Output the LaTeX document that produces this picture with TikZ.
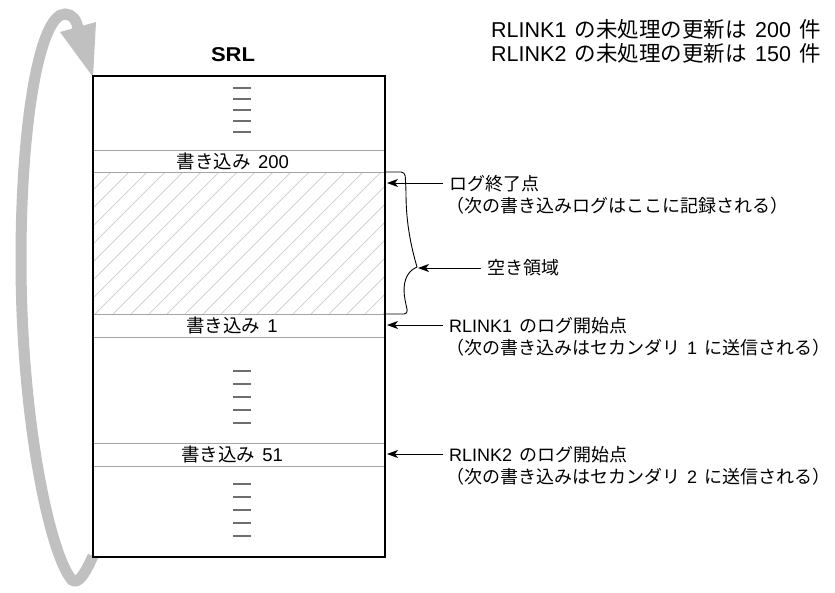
\documentclass[tikz,border=0pt]{standalone}
\usepackage{fontspec}
\setmainfont{Noto Sans CJK JP}
\newfontfamily\lat[WordSpace=1.4]{Liberation Sans}
\usetikzlibrary{arrows.meta}
\definecolor{loopgray}{RGB}{192,192,192}
\definecolor{hatchgray}{RGB}{205,205,205}
\definecolor{bandgray}{RGB}{165,165,165}
\definecolor{dashgray}{RGB}{110,110,110}
\newcommand{\latn}[1]{{\lat #1}}
\tikzset{
  lbl/.style={font=\fontsize{18}{20}\selectfont, inner sep=0pt, anchor=west},
  toplbl/.style={font=\fontsize{21.5}{24}\selectfont, inner sep=0pt, anchor=west},
  rowlbl/.style={font=\fontsize{18.5}{20}\selectfont, inner sep=0pt},
  ptr/.style={draw=black, line width=0.9pt, -{Stealth[length=11pt,width=8pt,inset=3pt]}},
  bandline/.style={draw=bandgray, line width=0.9pt},
  dashmark/.style={draw=dashgray, line width=1.5pt},
}
\begin{document}
\begin{tikzpicture}[x=1pt,y=-1pt]
\useasboundingbox (0,0) rectangle (835,592);
% big gray loop arrow
\draw[loopgray, line width=11pt]
  (93,556) .. controls (84,576) and (78,584) .. (72,580)
  .. controls (50,555) and (21,420) .. (21,260)
  .. controls (21,120) and (40,14) .. (65,14)
  .. controls (72,14) and (77,20) .. (78,29);
\fill[loopgray] (60,32) -- (96,22) -- (93,77) -- cycle;
% SRL box
\node[font=\lat\bfseries\fontsize{20}{22}\selectfont, inner sep=0pt] (srl) at (233,55) {\scalebox{1.1}[1]{SRL}};
\fill[white] (93,76) rectangle (385,557);
% hatched free area
\begin{scope}
  \clip (93,172) rectangle (385,314);
  \foreach \i in {-160,-142,...,300} {
    \draw[hatchgray, line width=0.7pt] (93+\i,314) -- ++(142,-142);
  }
\end{scope}
% band lines
\foreach \yy in {150,172,314,337,443,466} {
  \draw[bandline] (93,\yy) -- (385,\yy);
}
\draw[line width=1.6pt] (93,76) rectangle (385,557);
% dash stacks
\foreach \yy in {88,99,110,121,132, 371,384,397,410,423, 484,497,510,523,536} {
  \draw[dashmark] (233,\yy) -- (251,\yy);
}
% row labels
\node[rowlbl] (w200) at (233,161) {書き込み\latn{ 200}};
\node[rowlbl] (w1) at (232,325) {書き込み\latn{ 1}};
\node[rowlbl] (w51) at (232,454) {書き込み\latn{ 51}};
% brace
\draw[line width=0.9pt, rounded corners=4pt] (385,172) -- (405,172) -- (406,190)
  .. controls (406,225) and (412,250) .. (417,267);
\draw[line width=0.9pt, rounded corners=4pt] (417,267) .. controls (405,272) and (403,285) .. (405,300)
  -- (408,314) -- (385,314);
\coordinate (bracetip) at (418,268);
% right labels
\node[lbl] (endpt) at (449,184) {ログ終了点};
\node[lbl] (endpt2) at (446,206) {（次の書き込みログはここに記録される）};
\node[lbl] (free) at (487,268) {空き領域};
\node[lbl] (r1) at (449,326) {\latn{RLINK1 }のログ開始点};
\node[lbl] (r1b) at (446,348) {（次の書き込みはセカンダリ\latn{ 1 }に送信される）};
\node[lbl] (r2) at (449,455) {\latn{RLINK2 }のログ開始点};
\node[lbl] (r2b) at (446,477) {（次の書き込みはセカンダリ\latn{ 2 }に送信される）};
\node[toplbl] (top1) at (491,29) {\latn{RLINK1 }の未処理の更新は\latn{ 200 }件};
\node[toplbl] (top2) at (491,53) {\latn{RLINK2 }の未処理の更新は\latn{ 150 }件};
% pointer arrows
\coordinate (a1) at (387,183);
\coordinate (a2) at (387,325);
\coordinate (a3) at (387,454);
\coordinate (s1) at (443,183);
\coordinate (s2) at (481,268);
\coordinate (s3) at (443,325);
\coordinate (s4) at (443,454);
\draw[ptr] (s1) -- (a1);
\draw[ptr] (s2) -- (bracetip);
\draw[ptr] (s3) -- (a2);
\draw[ptr] (s4) -- (a3);
\end{tikzpicture}
\end{document}
